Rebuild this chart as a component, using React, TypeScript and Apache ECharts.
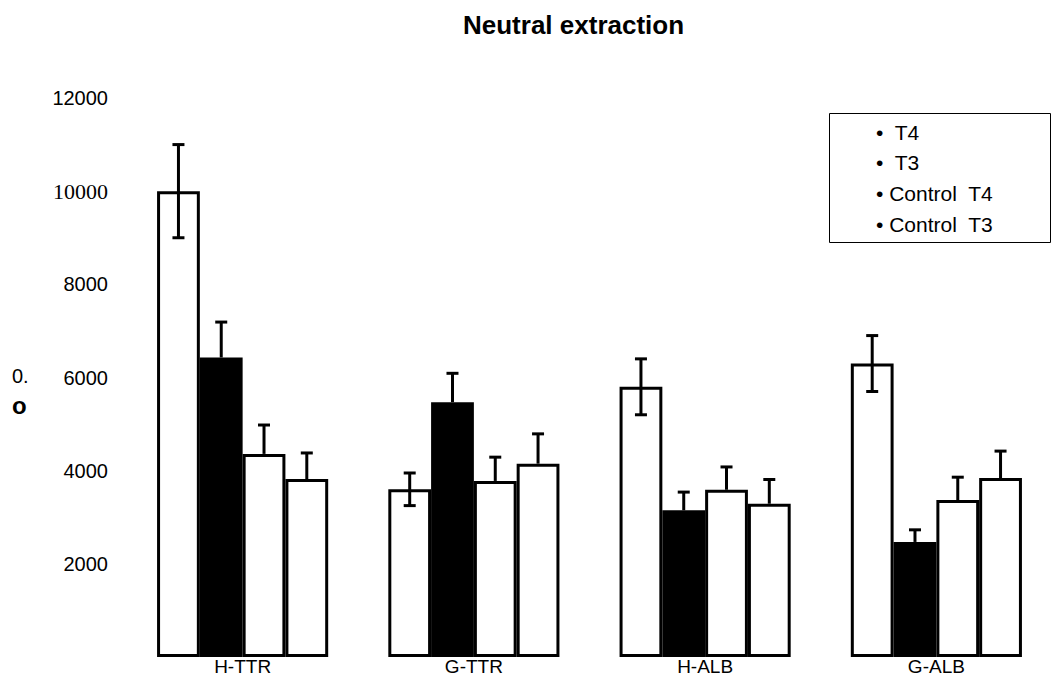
import React, { useEffect, useRef } from "react";
import * as echarts from "echarts";

const categories = ["H-TTR", "G-TTR", "H-ALB", "G-ALB"];
const seriesNames = ["T4", "T3", "Control T4", "Control T3"];
const legendLabels = ["•  T4", "•  T3", "• Control  T4", "• Control  T3"];

const t4 = [10000, 3600, 5800, 6300];
const t4Err = [1000, 350, 600, 600];
const t3 = [6430, 5470, 3150, 2470];
const t3Err = [760, 620, 390, 260];
const ctrlT4 = [4360, 3780, 3590, 3370];
const ctrlT4Err = [620, 510, 490, 490];
const ctrlT3 = [3820, 4150, 3290, 3840];
const ctrlT3Err = [560, 640, 520, 580];

const values = [t4, t3, ctrlT4, ctrlT3];
const errors = [t4Err, t3Err, ctrlT4Err, ctrlT3Err];
const twoSided = [true, false, false, false];
const fills = ["#ffffff", "#000000", "#ffffff", "#ffffff"];

const CAT_GAP = 0.26;

export default function App() {
  const ref = useRef<HTMLDivElement>(null);
  useEffect(() => {
    document.body.style.margin = "0";
    if (!ref.current) return;
    const chart = echarts.init(ref.current, undefined, { renderer: "svg" });

    const barSeries = seriesNames.map((name, i) => ({
      name,
      type: "bar",
      data: values[i],
      barGap: "0%",
      barCategoryGap: CAT_GAP * 100 + "%",
      itemStyle: { color: fills[i], borderColor: "#000", borderWidth: 3 },
      z: 2,
    }));

    const errSeries = seriesNames.map((name, i) => ({
      name: "err-" + name,
      type: "custom",
      z: 5,
      data: categories.map((_, k) => [k, values[i][k], errors[i][k]]),
      renderItem: (params: any, api: any) => {
        const k = api.value(0);
        const v = api.value(1);
        const e = api.value(2);
        const band = api.size([1, 0])[0];
        const bw = (band * (1 - CAT_GAP)) / 4;
        const base = api.coord([k, v]);
        const cx = base[0] + (i - 1.5) * bw;
        const yTop = api.coord([k, v + e])[1];
        const yBot = twoSided[i] ? api.coord([k, v - e])[1] : base[1];
        const cap = 6;
        const style = { stroke: "#000", lineWidth: 3 };
        const children: any[] = [
          { type: "line", shape: { x1: cx, y1: yTop, x2: cx, y2: yBot }, style },
          { type: "line", shape: { x1: cx - cap, y1: yTop, x2: cx + cap, y2: yTop }, style },
        ];
        if (twoSided[i]) {
          children.push({ type: "line", shape: { x1: cx - cap, y1: yBot, x2: cx + cap, y2: yBot }, style });
        }
        return { type: "group", children };
      },
    }));

    chart.setOption({
      animation: false,
      backgroundColor: "#ffffff",
      title: {
        text: "Neutral extraction",
        left: 458,
        top: 7,
        textStyle: { fontFamily: "Liberation Sans, Arial, sans-serif", fontWeight: "bold", fontSize: 26, color: "#000" },
      },
      legend: {
        orient: "vertical",
        left: 865,
        top: 116,
        itemWidth: 0,
        itemHeight: 0,
        itemGap: 8.7,
        data: seriesNames,
        formatter: (n: string) => legendLabels[seriesNames.indexOf(n)],
        textStyle: { fontFamily: "Liberation Sans, Arial, sans-serif", fontSize: 21, color: "#000", lineHeight: 22 },
        selectedMode: false,
      },
      grid: { left: 127, right: -1, top: 98, bottom: 40 },
      xAxis: {
        type: "category",
        data: categories,
        axisLine: { show: false },
        axisTick: { show: false },
        axisLabel: {
          margin: 0,
          fontFamily: "Liberation Sans, Arial, sans-serif",
          fontSize: 19,
          color: "#000",
        },
      },
      yAxis: {
        type: "value",
        min: 0,
        max: 12000,
        interval: 2000,
        axisLine: { show: false },
        axisTick: { show: false },
        splitLine: { show: false },
        axisLabel: {
          margin: 19,
          color: "#000",
          fontFamily: "Liberation Sans, Arial, sans-serif",
          fontSize: 20,
          formatter: (v: number) => (v === 0 ? "" : v === 10000 ? "{s|" + v + "}" : String(v)),
          rich: { s: { fontFamily: "Liberation Serif, Times New Roman, serif", fontSize: 22, color: "#000" } },
        },
      },
      graphic: [
        {
          type: "rect",
          shape: { x: 829.5, y: 113.5, width: 221, height: 129 },
          style: { fill: "none", stroke: "#000", lineWidth: 1 },
        },
        {
          type: "text",
          x: 12,
          y: 366,
          style: { text: "0.", fontFamily: "Liberation Sans, Arial, sans-serif", fontSize: 20, fill: "#000" },
        },
        {
          type: "text",
          x: 12,
          y: 393,
          style: { text: "o", fontFamily: "Liberation Sans, Arial, sans-serif", fontSize: 24, fontWeight: "bold", fill: "#000" },
        },
      ],
      series: [...barSeries, ...errSeries],
    });
    return () => chart.dispose();
  }, []);
  return <div ref={ref} style={{ width: 1052, height: 697 }} />;
}
